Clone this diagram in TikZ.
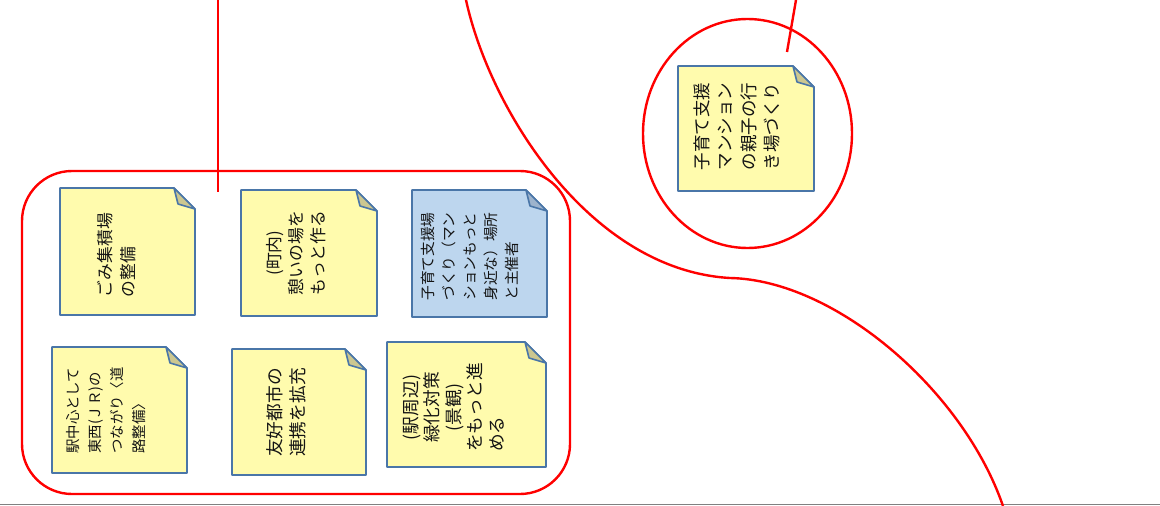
\documentclass[tikz,border=0pt]{standalone}
\usepackage{fontspec}
\usetikzlibrary{shapes.geometric}
\newfontfamily\jp{Noto Sans CJK JP}
\definecolor{redline}{RGB}{255,0,0}
\definecolor{notebd}{RGB}{74,118,168}
\definecolor{noteyel}{RGB}{255,251,173}
\definecolor{foldyel}{RGB}{204,199,144}
\definecolor{noteblu}{RGB}{189,214,238}
\definecolor{foldblu}{RGB}{157,179,204}
\definecolor{txtc}{RGB}{20,20,20}
\tikzset{
  redstroke/.style={draw=redline, line width=2.4pt},
  notebox/.style={minimum width=#1, inner sep=0pt, outer sep=0pt},
  noteline/.style={draw=notebd, line width=1.6pt, line join=round},
  txt/.style={rotate=90, inner sep=0pt, text=txtc},
}
\newcommand\stickynote[3]{%
  \path[noteline, fill=#2] (#1.south west) -- (#1.north west) -- ([xshift=-21pt]#1.north east)
     -- ([yshift=-21pt]#1.north east) -- (#1.south east) -- cycle;
  \path[noteline, fill=#3] ([xshift=-21pt]#1.north east) -- ([xshift=-17pt,yshift=-16pt]#1.north east)
     -- ([yshift=-21pt]#1.north east) -- cycle;
}
\begin{document}
\begin{tikzpicture}[x=1pt,y=-1pt]
\useasboundingbox (0,0) rectangle (1160,506);
% bottom gray rule
\coordinate (gl) at (0,504.5);
\coordinate (gr) at (1160,504.5);
\draw[color={rgb,255:red,128;green,128;blue,128}, line width=1.5pt] (gl) -- (gr);

% big rounded frame
\node[draw=redline, line width=2.4pt, rounded corners=50pt, minimum width=548pt, minimum height=323pt, inner sep=0pt] (frame) at (296,332.5) {};

% vertical line from top
\coordinate (v1) at (218,0);
\coordinate (v2) at (218,192);
\draw[redstroke] (v1) -- (v2);

% big curve
\coordinate (c0) at (466,0);
\coordinate (c1) at (730,278);
\coordinate (c2) at (1003,506);
\draw[redstroke] (c0) .. controls (490,110) and (590,270) .. (c1)
   .. controls (835,280) and (963,390) .. (c2);

% small ellipse
\node[draw=redline, line width=2.4pt, ellipse, minimum width=209pt, minimum height=229pt, inner sep=0pt] (ring) at (747.5,133.5) {};
\coordinate (s1) at (796,0);
\coordinate (s2) at (787,52);
\draw[redstroke] (s1) -- (s2);

% notes (boxes)
\node[notebox=135pt, minimum height=127pt] (n1) at (127.5,251.5) {};
\node[notebox=136pt, minimum height=126pt] (n2) at (309,253) {};
\node[notebox=135pt, minimum height=127pt] (n3) at (479.5,253.5) {};
\node[notebox=135pt, minimum height=126pt] (n4) at (119.5,410) {};
\node[notebox=134pt, minimum height=126pt] (n5) at (299,412) {};
\node[notebox=159pt, minimum height=125pt] (n6) at (466.5,404.5) {};
\node[notebox=136pt, minimum height=125pt] (n7) at (746,128.5) {};

\stickynote{n1}{noteyel}{foldyel}
\stickynote{n2}{noteyel}{foldyel}
\stickynote{n3}{noteblu}{foldblu}
\stickynote{n4}{noteyel}{foldyel}
\stickynote{n5}{noteyel}{foldyel}
\stickynote{n6}{noteyel}{foldyel}
\stickynote{n7}{noteyel}{foldyel}

% texts
\node[txt, font=\jp\fontsize{16.8}{23.5}\selectfont, align=left] (t1) at (116.5,255) {ごみ集積場\\の整備};
\node[txt, font=\jp\fontsize{16.8}{22}\selectfont, align=center] (t2) at (296,253) {(町内)\\憩いの場を\\もっと作る};
\node[txt, font=\jp\fontsize{14.7}{21}\selectfont, align=left] (t3) at (470,256.5) {子育て支援場\\づくり（マン\\ションもっと\\身近な）場所\\と主催者};
\node[txt, font=\jp\fontsize{14.4}{22}\selectfont, align=left] (t4) at (106.5,410.5) {駅中心として\\東西(ＪＲ)の\\つながり〈道\\路整備〉};
\node[txt, font=\jp\fontsize{17.7}{23}\selectfont, align=center] (t5) at (286.5,412.5) {友好都市の\\連携を拡充};
\node[txt, font=\jp\fontsize{17.7}{21.5}\selectfont] (t6) at (456,407.5) {\begin{tabular}{@{}c@{}}(駅周辺)\\緑化対策\\(景観)\\をもっと進\\\multicolumn{1}{@{}l@{}}{める}\end{tabular}};
\node[txt, font=\jp\fontsize{17.5}{23.3}\selectfont, align=left] (t7) at (737,126.5) {子育て支援\\マンション\\の親子の行\\き場づくり};
\end{tikzpicture}
\end{document}
